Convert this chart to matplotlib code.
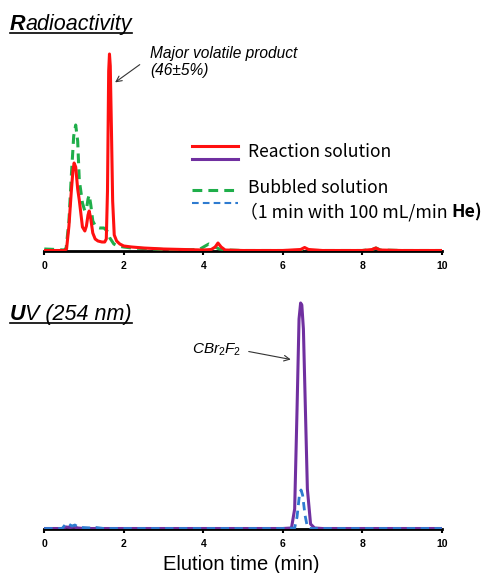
import matplotlib
matplotlib.use("Agg")
import matplotlib.pyplot as plt
from matplotlib.lines import Line2D

plt.rcParams["font.family"] = ["Liberation Sans", "DejaVu Sans"]
plt.rcParams["mathtext.fontset"] = "custom"
plt.rcParams["mathtext.it"] = "Liberation Sans:italic"
plt.rcParams["mathtext.rm"] = "Liberation Sans"

# radioactivity trace, reaction solution (time in min, signal in a.u.)
rad_react_t = [0, 0.5, 0.56, 0.62, 0.68, 0.72, 0.75, 0.79, 0.84, 0.88, 0.96, 1.02,
               1.06, 1.1, 1.13, 1.17, 1.22, 1.28, 1.35, 1.45, 1.52, 1.56, 1.59, 1.62,
               1.64, 1.66, 1.69, 1.72, 1.76, 1.82, 1.9, 2.0, 2.2, 2.5, 3.0, 3.5, 4.0,
               4.2, 4.3, 4.37, 4.45, 4.55, 5.0, 6.0, 6.45, 6.55, 6.65, 7.0, 8.0, 8.25,
               8.34, 8.45, 9.0, 10.0]
rad_react_y = [0.5, 0.5, 2, 25, 60, 80, 88, 84, 62, 51, 24, 20,
               25, 36, 40, 32, 18, 12, 10, 9, 9, 12, 60, 180,
               197, 185, 120, 50, 16, 10, 7, 5, 4, 3, 2, 1.5, 1,
               1.5, 4, 8, 4, 1, 0.5, 0.5, 1.5, 3.5, 1.5, 0.5, 0.5, 1.5,
               3, 1, 0.5, 0.5]

# radioactivity trace, bubbled solution
rad_bub_t = [0, 0.3, 0.5, 0.55, 0.62, 0.68, 0.74, 0.79, 0.84, 0.88, 0.96, 1.02,
             1.07, 1.1, 1.13, 1.17, 1.22, 1.3, 1.4, 1.5, 1.58, 1.65, 1.75, 1.85,
             2.0, 2.2, 2.5, 3.0, 3.5, 3.9, 4.05, 4.14, 4.25, 4.4, 4.6, 5.0, 6.0,
             6.5, 6.6, 6.7, 7.0, 8.0, 8.25, 8.35, 8.45, 9.0, 10.0]
rad_bub_y = [2, 1.5, 1, 3, 30, 75, 115, 126, 110, 71, 48, 40,
             44, 52, 56, 46, 30, 24, 23, 23, 20, 13, 7, 5,
             4, 3, 2.5, 1.5, 1, 1.5, 5, 7, 5, 2, 1, 0.5, 0.5,
             0.5, 1, 0.5, 0.5, 0.5, 1.5, 3, 1, 0.5, 0.5]

# UV 254 nm, reaction solution
uv_react_t = [0, 0.45, 0.55, 0.65, 0.75, 0.85, 1.0, 6.0, 6.22, 6.3, 6.36, 6.41,
              6.45, 6.48, 6.52, 6.57, 6.62, 6.7, 6.8, 7.0, 10.0]
uv_react_y = [0.5, 0.5, 2, 1.5, 2, 1, 0.5, 0.5, 1, 20, 120, 210,
              226, 224, 200, 120, 40, 5, 1, 0.5, 0.5]

# UV 254 nm, bubbled solution
uv_bub_t = [0, 0.45, 0.52, 0.58, 0.65, 0.7, 0.77, 0.85, 0.95, 1.2, 1.3, 1.5,
            6.0, 6.3, 6.36, 6.42, 6.46, 6.5, 6.56, 6.62, 6.7, 10.0]
uv_bub_y = [0.5, 0.5, 4, 6, 4, 3, 4, 2, 1.5, 1, 1.5, 0.5,
            0.5, 1, 12, 34, 39, 34, 14, 2, 0.5, 0.5]

x_ticks = [0, 2, 4, 6, 8, 10]

RED = "#ff1010"
GREEN = "#1fae4a"
PURPLE = "#7030a0"
BLUE = "#2e7bd0"

W, H = 489, 573
fig = plt.figure(figsize=(W / 100, H / 100), dpi=100)


def px(x, y):
    # pixel (from top-left) -> figure fraction
    return x / W, (H - y) / H


ax_left, ax_w = 44.3 / W, 397.4 / W
ax1 = fig.add_axes([ax_left, (H - 251) / H, ax_w, 220 / H])
ax2 = fig.add_axes([ax_left, (H - 529) / H, ax_w, 240 / H])

ax1.plot(rad_bub_t, rad_bub_y, color=GREEN, lw=2.2, ls=(0, (3.2, 2.0)), zorder=3)
ax1.plot(rad_react_t, rad_react_y, color=RED, lw=2.2, zorder=4)
ax2.plot(uv_react_t, uv_react_y, color=PURPLE, lw=2.2, zorder=3)
ax2.plot(uv_bub_t, uv_bub_y, color=BLUE, lw=2.0, ls=(0, (3, 2)), zorder=4)

for ax, top in ((ax1, 220), (ax2, 240)):
    ax.set_xlim(0, 10)
    ax.set_ylim(0, top)
    for s in ("left", "right", "top"):
        ax.spines[s].set_visible(False)
    ax.spines["bottom"].set_linewidth(2.0)
    ax.set_yticks([])
    ax.set_xticks(x_ticks)
    ax.set_xticklabels([str(t) for t in x_ticks], fontsize=7.5, fontweight="bold")
    ax.tick_params(axis="x", direction="out", length=3, width=1.5, pad=4.5)
    ax.patch.set_alpha(0)

# panel titles, underlined
def title(x, y, first, rest):
    t1 = fig.text(*px(x, y), first, fontsize=15.5, fontweight="bold", style="italic",
                  va="baseline", ha="left")
    fig.canvas.draw()
    r = fig.canvas.get_renderer()
    bb = t1.get_window_extent(r)
    t2 = fig.text(bb.x1 / W, (H - y) / H, rest, fontsize=15.5, style="italic",
                  va="baseline", ha="left")
    bb2 = t2.get_window_extent(r)
    fig.add_artist(Line2D([x / W, bb2.x1 / W], [(H - y - 3) / H] * 2,
                          transform=fig.transFigure, color="black", lw=1.2))

title(10, 30, "R", "adioactivity")
title(10, 320, "U", "V (254 nm)")

# annotations
ax1.annotate("Major volatile product\n(46\u00b15%)", xy=(1.725, 167),
             xytext=px(150, 46), textcoords="figure fraction",
             fontsize=11.2, style="italic", va="top", ha="left", linespacing=1.2)
ax1.annotate("", xy=(1.725, 167), xytext=px(142, 63), textcoords="figure fraction",
             arrowprops=dict(arrowstyle="->", color="#333333", lw=0.8))
ax2.annotate(r"$CBr_2F_2$", xy=(6.27, 169), xytext=px(192, 350),
             textcoords="figure fraction", fontsize=11, va="center", ha="left")
ax2.annotate("", xy=(6.27, 169), xytext=px(246, 351), textcoords="figure fraction",
             arrowprops=dict(arrowstyle="->", color="#333333", lw=0.8))

# legend drawn by hand
leg = [(146, RED, "-", 2.2), (159, PURPLE, "-", 2.2),
       (190, GREEN, (0, (3.2, 2)), 2.2), (203, BLUE, (0, (3.2, 2)), 1.5)]
for y, c, ls, lw in leg:
    fig.add_artist(Line2D([192 / W, 238 / W], [(H - y) / H] * 2,
                          transform=fig.transFigure, color=c, ls=ls, lw=lw))
cjk = ["Noto Sans CJK JP", "DejaVu Sans"]
fig.text(*px(248, 152), "Reaction solution", fontsize=12.6, family=cjk, va="center")
fig.text(*px(248, 188), "Bubbled solution", fontsize=12.6, family=cjk, va="center")
tn = fig.text(*px(240, 212), "\uff081 min with 100 mL/min ", fontsize=12.8,
              family=cjk, va="center")
fig.canvas.draw()
bb = tn.get_window_extent(fig.canvas.get_renderer())
fig.text(bb.x1 / W, (H - 212) / H, "He)", fontsize=12.8, family=cjk,
         fontweight="bold", va="center")

fig.text(*px(241, 564), "Elution time (min)", fontsize=14.5, ha="center", va="center")

fig.savefig("out.png", dpi=100)
